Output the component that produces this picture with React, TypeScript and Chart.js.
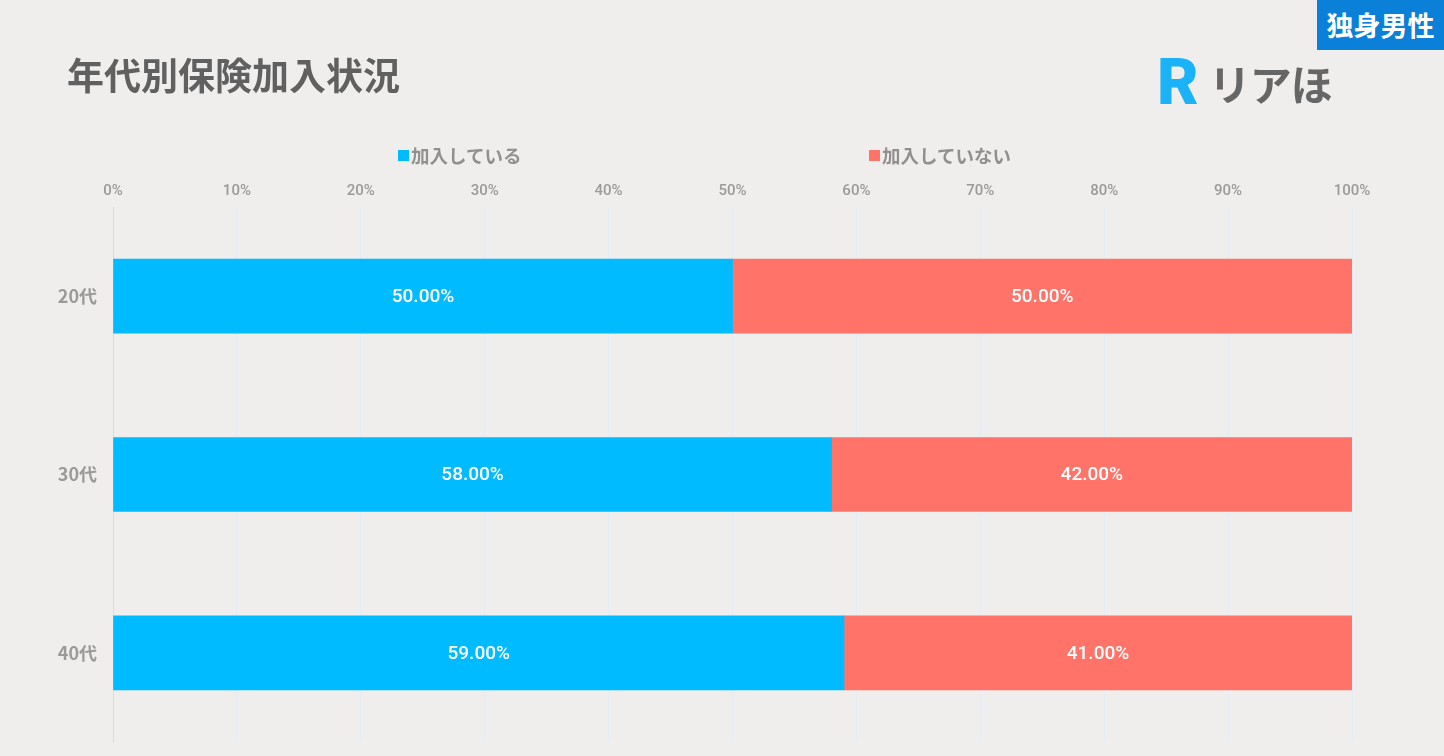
import React, { useEffect, useRef } from "react";
import { Chart, registerables } from "chart.js";

Chart.register(...registerables);

const categories = ["20代", "30代", "40代"];
const joinedValues = [50, 58, 59];
const notJoinedValues = [50, 42, 41];
const seriesNames = ["加入している", "加入していない"];
const xTicks = [0, 10, 20, 30, 40, 50, 60, 70, 80, 90, 100];

const BLUE = "#00bbff";
const RED = "#ff7369";
const BG = "#f0eeec";
const JP = '"Noto Sans CJK JP", "Noto Sans", sans-serif';
const NUM = 'Roboto, "Noto Sans", sans-serif';

const barLabelPlugin = {
  id: "barLabels",
  afterDatasetsDraw(chart: any) {
    const ctx = chart.ctx;
    ctx.save();
    ctx.fillStyle = "#ffffff";
    ctx.font = `500 19px ${NUM}`;
    ctx.textAlign = "center";
    ctx.textBaseline = "middle";
    chart.data.datasets.forEach((ds: any, di: number) => {
      const meta = chart.getDatasetMeta(di);
      meta.data.forEach((bar: any, i: number) => {
        const v = ds.data[i];
        const cx = (bar.x + bar.base) / 2;
        ctx.fillText(v.toFixed(2) + "%", cx, bar.y + 1);
      });
    });
    ctx.restore();
  },
};

export default function App() {
  const ref = useRef<HTMLCanvasElement | null>(null);
  useEffect(() => {
    if (!ref.current) return;
    const chart = new Chart(ref.current, {
      type: "bar",
      data: {
        labels: categories,
        datasets: [
          { label: seriesNames[0], data: joinedValues, backgroundColor: BLUE, barThickness: 74 },
          { label: seriesNames[1], data: notJoinedValues, backgroundColor: RED, barThickness: 74 },
        ],
      },
      plugins: [barLabelPlugin],
      options: {
        indexAxis: "y",
        responsive: false,
        animation: false,
        layout: { padding: { left: 0, top: 0, right: 92, bottom: 14 } },
        plugins: { legend: { display: false }, tooltip: { enabled: false } },
        scales: {
          x: {
            stacked: true,
            position: "top",
            min: 0,
            max: 100,
            afterBuildTicks: (scale: any) => {
              scale.ticks = xTicks.map((v) => ({ value: v }));
            },
            afterFit: (scale: any) => {
              scale.height = 207;
            },
            grid: { color: "#e2edf5", drawTicks: false },
            border: { display: false },
            ticks: {
              padding: 7,
              color: "#9a9a9a",
              font: { family: NUM, size: 15, weight: "500" },
              callback: (v: any) => v + "%",
            },
          },
          y: {
            stacked: true,
            afterFit: (scale: any) => {
              scale.width = 113;
            },
            grid: {
              display: true,
              drawOnChartArea: false,
              drawTicks: true,
              tickLength: 16,
              color: "rgba(0,0,0,0)",
            },
            border: { display: true, color: "#dcdcdc" },
            ticks: {
              padding: 0,
              color: "#9a9a9a",
              font: { family: JP, size: 18, weight: "700" },
            },
          },
        },
      },
    } as any);
    return () => chart.destroy();
  }, []);

  return (
    <div
      style={{
        position: "absolute",
        left: 0,
        top: 0,
        width: 1444,
        height: 756,
        background: BG,
        overflow: "hidden",
      }}
    >
      <canvas ref={ref} width={1444} height={756} style={{ position: "absolute", left: 0, top: 0 }} />
      <div
        style={{
          position: "absolute",
          left: 67,
          top: 49,
          fontFamily: JP,
          fontWeight: 700,
          fontSize: 37,
          color: "#606060",
          lineHeight: "50px",
          whiteSpace: "nowrap",
        }}
      >
        年代別保険加入状況
      </div>
      <div
        style={{
          position: "absolute",
          left: 1317,
          top: 0,
          width: 127,
          height: 50,
          background: "#0a80d8",
          color: "#fff",
          fontFamily: JP,
          fontWeight: 700,
          fontSize: 27,
          lineHeight: "50px",
          textAlign: "center",
          whiteSpace: "nowrap",
        }}
      >
        独身男性
      </div>
      <div
        style={{
          position: "absolute",
          left: 1157,
          top: 53,
          height: 60,
          display: "flex",
          alignItems: "center",
          whiteSpace: "nowrap",
        }}
      >
        <span
          style={{
            fontFamily: 'Roboto, "Noto Sans", sans-serif',
            fontWeight: 900,
            fontSize: 64,
            color: "#1ab3f7",
            lineHeight: "60px",
            marginRight: 10,
          }}
        >
          R
        </span>
        <span
          style={{
            fontFamily: JP,
            fontWeight: 700,
            fontSize: 42,
            color: "#666666",
            lineHeight: "60px",
            letterSpacing: -1,
          }}
        >
          リアほ
        </span>
      </div>
      {[
        { left: 398, color: BLUE, text: seriesNames[0] },
        { left: 869, color: RED, text: seriesNames[1] },
      ].map((it) => (
        <div
          key={it.text}
          style={{
            position: "absolute",
            left: it.left,
            top: 142,
            height: 26,
            display: "flex",
            alignItems: "center",
            whiteSpace: "nowrap",
          }}
        >
          <span style={{ width: 11, height: 11, background: it.color, display: "inline-block", marginRight: 2 }} />
          <span style={{ fontFamily: JP, fontWeight: 700, fontSize: 18.5, color: "#909090", lineHeight: "26px" }}>
            {it.text}
          </span>
        </div>
      ))}
    </div>
  );
}
